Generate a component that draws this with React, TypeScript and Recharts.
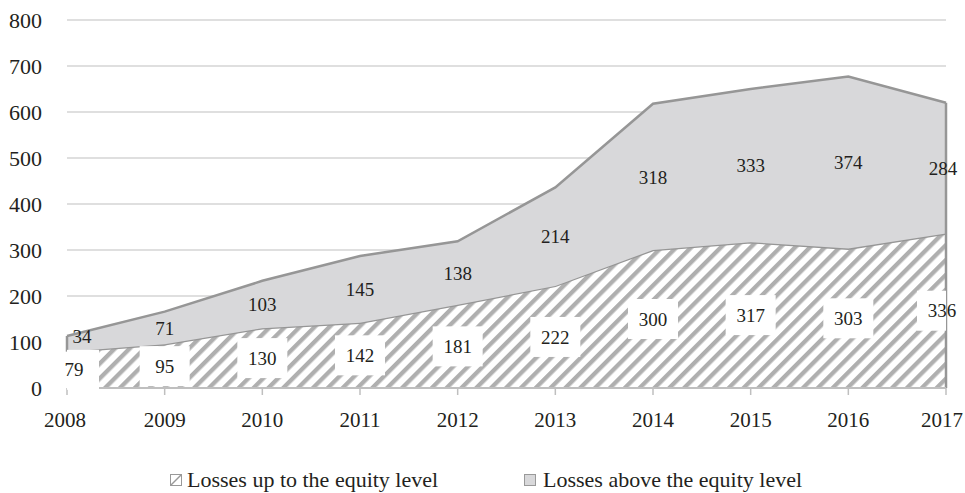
import { ComposedChart, Area, Line, XAxis, YAxis, CartesianGrid, LabelList, ReferenceLine } from 'recharts';

const years = ['2008', '2009', '2010', '2011', '2012', '2013', '2014', '2015', '2016', '2017'];
const upToEquity = [79, 95, 130, 142, 181, 222, 300, 317, 303, 336];
const aboveEquity = [34, 71, 103, 145, 138, 214, 318, 333, 374, 284];
const yTicks = [0, 100, 200, 300, 400, 500, 600, 700, 800];

const W = 965;
const H = 493;
const PLOT = { left: 67, right: 946, top: 20, bottom: 388 };
const FONT = "'Liberation Serif', 'DejaVu Serif', serif";
const TEXT = '#231f20';
const EDGE = '#969696';

const data = years.map((year, i) => ({
  year,
  up: upToEquity[i],
  above: aboveEquity[i],
  upMid: upToEquity[i] / 2,
  aboveMid: upToEquity[i] + aboveEquity[i] / 2,
}));

const last = years.length - 1;
const firstYear = years[0];
const lastYear = years[last];

function YearTick(props: any) {
  const { x, y, payload, index } = props;
  let dx = 0;
  if (index === 0) dx = -2;
  if (index === last) dx = -4;
  return (
    <text x={x + dx} y={y} dy="0.71em" textAnchor="middle" fontFamily={FONT} fontSize={21} fill={TEXT}>
      {payload.value}
    </text>
  );
}

function BottomLabel(props: any) {
  const { x, y, index } = props;
  let cx = x;
  if (index === 0) cx += 7;
  if (index === last) cx -= 4;
  const w = 50;
  const h = 40;
  const bx = Math.max(PLOT.left, cx - w / 2);
  const bx2 = Math.min(PLOT.right, cx + w / 2);
  return (
    <g>
      <rect x={bx} y={y - h / 2} width={bx2 - bx} height={h} fill="#fff" />
      <text x={cx} y={y} dy="0.35em" textAnchor="middle" fontFamily={FONT} fontSize={19} fill={TEXT}>
        {upToEquity[index]}
      </text>
    </g>
  );
}

function TopLabel(props: any) {
  const { x, y, index } = props;
  let cx = x;
  let cy = y;
  if (index === 0) {
    cx += 15;
    cy -= 7;
  }
  if (index === last) cx -= 3;
  return (
    <text x={cx} y={cy} dy="0.35em" textAnchor="middle" fontFamily={FONT} fontSize={19} fill={TEXT}>
      {aboveEquity[index]}
    </text>
  );
}

export default function App() {
  return (
    <div style={{ position: 'absolute', left: 0, top: 0, width: W, height: H, background: '#fff' }}>
      <ComposedChart
        width={W}
        height={H}
        data={data}
        margin={{ top: PLOT.top, right: W - PLOT.right, bottom: H - PLOT.bottom - 40, left: 0 }}
      >
        <defs>
          <pattern id="hatch" width="10.5" height="10.5" patternUnits="userSpaceOnUse" patternTransform="rotate(45)">
            <rect width="10.5" height="10.5" fill="#fff" />
            <rect width="4.3" height="10.5" fill="#afafaf" />
          </pattern>
        </defs>
        <CartesianGrid vertical={false} stroke="#d4d4d4" strokeWidth={1.5} />
        <XAxis
          dataKey="year"
          height={40}
          tick={YearTick}
          tickSize={7}
          tickMargin={17}
          axisLine={{ stroke: '#bfbfbf', strokeWidth: 2 }}
          tickLine={{ stroke: '#bfbfbf', strokeWidth: 1.5 }}
          interval={0}
        />
        <YAxis
          width={67}
          domain={[0, 800]}
          ticks={yTicks}
          tick={{ fontSize: 22, fontFamily: FONT, fill: TEXT }}
          tickSize={6}
          tickMargin={19}
          axisLine={false}
          tickLine={false}
        />
        <Area
          type="linear"
          dataKey="up"
          stackId="1"
          fill="url(#hatch)"
          fillOpacity={1}
          stroke={EDGE}
          strokeWidth={2.5}
          isAnimationActive={false}
        />
        <Area
          type="linear"
          dataKey="above"
          stackId="1"
          fill="#d8d8da"
          fillOpacity={1}
          stroke={EDGE}
          strokeWidth={2.5}
          isAnimationActive={false}
        />
        <ReferenceLine
          segment={[
            { x: firstYear, y: upToEquity[0] },
            { x: firstYear, y: upToEquity[0] + aboveEquity[0] },
          ]}
          stroke={EDGE}
          strokeWidth={2.5}
        />
        <ReferenceLine
          segment={[
            { x: lastYear, y: 0 },
            { x: lastYear, y: upToEquity[last] + aboveEquity[last] },
          ]}
          stroke={EDGE}
          strokeWidth={2.5}
        />
        <Line dataKey="upMid" stroke="none" dot={false} activeDot={false} isAnimationActive={false}>
          <LabelList dataKey="up" content={BottomLabel} />
        </Line>
        <Line dataKey="aboveMid" stroke="none" dot={false} activeDot={false} isAnimationActive={false}>
          <LabelList dataKey="above" content={TopLabel} />
        </Line>
      </ComposedChart>

      <div style={{ position: 'absolute', left: 170, top: 472, width: 12, height: 12 }}>
        <svg width={12} height={12}>
          <rect x={0.5} y={0.5} width={11} height={11} fill="#fff" stroke="#999" />
          <line x1={1} y1={11} x2={11} y2={1} stroke="#999" strokeWidth={1.5} />
        </svg>
      </div>
      <div style={{ position: 'absolute', left: 187, top: 469, fontFamily: FONT, fontSize: 22, lineHeight: '22px', color: TEXT, whiteSpace: 'nowrap' }}>
        Losses up to the equity level
      </div>
      <div style={{ position: 'absolute', left: 524, top: 472, width: 12, height: 12 }}>
        <svg width={12} height={12}>
          <rect x={0.5} y={0.5} width={11} height={11} fill="#d8d8da" stroke="#999" />
        </svg>
      </div>
      <div style={{ position: 'absolute', left: 543, top: 469, fontFamily: FONT, fontSize: 22, lineHeight: '22px', color: TEXT, whiteSpace: 'nowrap' }}>
        Losses above the equity level
      </div>
    </div>
  );
}
